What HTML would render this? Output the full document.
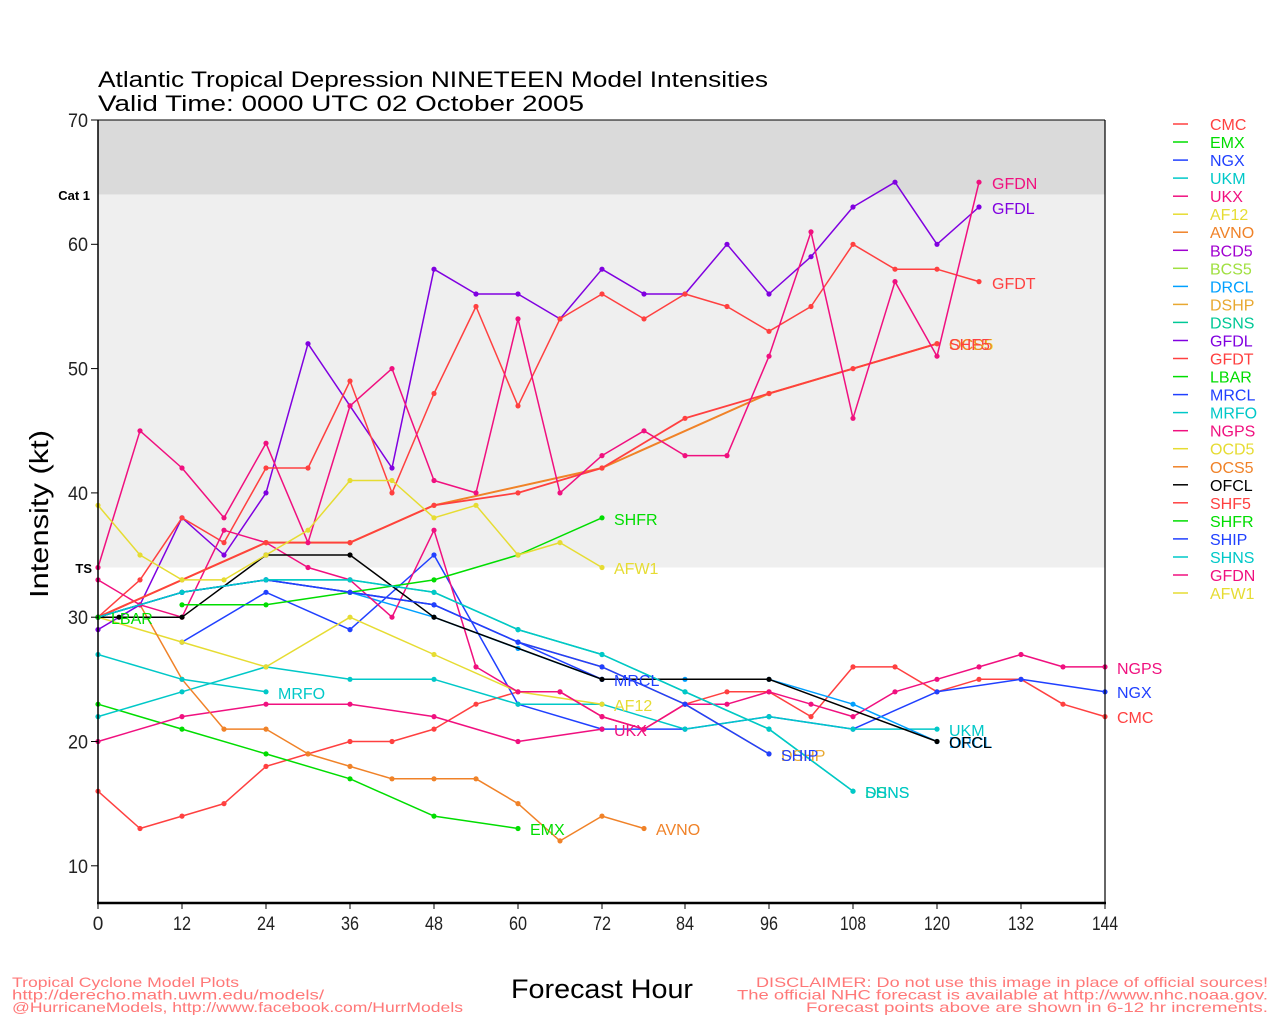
<!DOCTYPE html>
<html>
<head>
<meta charset="utf-8">
<style>
html,body{margin:0;padding:0;background:#fff;}
svg{display:block;}
text{font-family:"Liberation Sans","DejaVu Sans",sans-serif;}
</style>
</head>
<body>
<svg width="1280" height="1024" viewBox="0 0 1280 1024" xmlns="http://www.w3.org/2000/svg">
<defs>
<marker id="mRed" markerWidth="6" markerHeight="6" refX="3" refY="3" markerUnits="userSpaceOnUse"><circle cx="3" cy="3" r="2.6" fill="#ff4040"/></marker>
<marker id="mGrn" markerWidth="6" markerHeight="6" refX="3" refY="3" markerUnits="userSpaceOnUse"><circle cx="3" cy="3" r="2.6" fill="#00dd00"/></marker>
<marker id="mBlu" markerWidth="6" markerHeight="6" refX="3" refY="3" markerUnits="userSpaceOnUse"><circle cx="3" cy="3" r="2.6" fill="#2040ff"/></marker>
<marker id="mCyn" markerWidth="6" markerHeight="6" refX="3" refY="3" markerUnits="userSpaceOnUse"><circle cx="3" cy="3" r="2.6" fill="#00c8c8"/></marker>
<marker id="mPnk" markerWidth="6" markerHeight="6" refX="3" refY="3" markerUnits="userSpaceOnUse"><circle cx="3" cy="3" r="2.6" fill="#f0107f"/></marker>
<marker id="mYel" markerWidth="6" markerHeight="6" refX="3" refY="3" markerUnits="userSpaceOnUse"><circle cx="3" cy="3" r="2.6" fill="#e6dc32"/></marker>
<marker id="mOrg" markerWidth="6" markerHeight="6" refX="3" refY="3" markerUnits="userSpaceOnUse"><circle cx="3" cy="3" r="2.6" fill="#f08228"/></marker>
<marker id="mPur" markerWidth="6" markerHeight="6" refX="3" refY="3" markerUnits="userSpaceOnUse"><circle cx="3" cy="3" r="2.6" fill="#8000e0"/></marker>
<marker id="mSky" markerWidth="6" markerHeight="6" refX="3" refY="3" markerUnits="userSpaceOnUse"><circle cx="3" cy="3" r="2.6" fill="#00a0ff"/></marker>
<marker id="mGld" markerWidth="6" markerHeight="6" refX="3" refY="3" markerUnits="userSpaceOnUse"><circle cx="3" cy="3" r="2.6" fill="#e8a830"/></marker>
<marker id="mTea" markerWidth="6" markerHeight="6" refX="3" refY="3" markerUnits="userSpaceOnUse"><circle cx="3" cy="3" r="2.6" fill="#00c896"/></marker>
<marker id="mBlk" markerWidth="6" markerHeight="6" refX="3" refY="3" markerUnits="userSpaceOnUse"><circle cx="3" cy="3" r="2.6" fill="#000000"/></marker>
</defs>

<rect x="0" y="0" width="1280" height="1024" fill="#ffffff"/>

<!-- bands -->
<rect x="98" y="120" width="1007" height="74.6" fill="#dadada"/>
<rect x="98" y="194.6" width="1007" height="372.9" fill="#efefef"/>

<!-- title -->
<text x="98" y="87" font-size="22" textLength="670" lengthAdjust="spacingAndGlyphs" fill="#000">Atlantic Tropical Depression NINETEEN Model Intensities</text>
<text x="98" y="111" font-size="22" textLength="486" lengthAdjust="spacingAndGlyphs" fill="#000">Valid Time: 0000 UTC 02 October 2005</text>

<!-- series lines -->
<g fill="none" stroke-width="1.5" stroke-linejoin="round">
<!-- CMC -->
<polyline stroke="#ff4040" marker-start="url(#mRed)" marker-mid="url(#mRed)" marker-end="url(#mRed)" points="98,791.2 140,828.5 182,816.1 224,803.6 266,766.4 308,753.9 350,741.5 392,741.5 434,729.1 476,704.2 518,691.8 560,691.8 602,716.6 644,729.1 685,704.2 727,691.8 769,691.8 811,716.6 853,666.9 895,666.9 937,691.8 979,679.3 1021,679.3 1063,704.2 1105,716.6"/>
<!-- EMX -->
<polyline stroke="#00dd00" marker-start="url(#mGrn)" marker-mid="url(#mGrn)" marker-end="url(#mGrn)" points="98,704.2 182,729.1 266,753.9 350,778.8 434,816.1 518,828.5"/>
<!-- NGX -->
<polyline stroke="#2040ff" marker-start="url(#mBlu)" marker-mid="url(#mBlu)" marker-end="url(#mBlu)" points="182,642.1 266,592.3 350,629.6 434,555.0 518,704.2 602,729.1 685,729.1 769,716.6 853,729.1 937,691.8 1021,679.3 1105,691.8"/>
<!-- UKM -->
<polyline stroke="#00c8c8" marker-start="url(#mCyn)" marker-mid="url(#mCyn)" marker-end="url(#mCyn)" points="98,716.6 182,691.8 266,666.9 350,679.3 434,679.3 518,704.2 602,704.2 685,729.1 769,716.6 853,729.1 937,729.1"/>
<!-- UKX -->
<polyline stroke="#f0107f" marker-start="url(#mPnk)" marker-mid="url(#mPnk)" marker-end="url(#mPnk)" points="98,741.5 182,716.6 266,704.2 350,704.2 434,716.6 518,741.5 602,729.1"/>
<!-- AF12 -->
<polyline stroke="#e6dc32" marker-start="url(#mYel)" marker-mid="url(#mYel)" marker-end="url(#mYel)" points="98,617.2 182,642.1 266,666.9 350,617.2 434,654.5 518,691.8 602,704.2"/>
<!-- AVNO -->
<polyline stroke="#f08228" marker-start="url(#mOrg)" marker-mid="url(#mOrg)" marker-end="url(#mOrg)" points="98,617.2 140,604.8 182,679.3 224,729.1 266,729.1 308,753.9 350,766.4 392,778.8 434,778.8 476,778.8 518,803.6 560,840.9 602,816.1 644,828.5"/>
<!-- DRCL -->
<polyline stroke="#00a0ff" marker-start="url(#mSky)" marker-mid="url(#mSky)" marker-end="url(#mSky)" points="98,617.2 182,592.3 266,579.9 350,592.3 434,617.2 518,648.4 602,679.3 685,679.3 769,679.3 853,704.2 937,741.5"/>
<!-- DSHP -->
<polyline stroke="#e8a830" marker-start="url(#mGld)" marker-mid="url(#mGld)" marker-end="url(#mGld)" points="98,617.2 182,592.3 266,579.9 350,592.3 434,604.8 518,642.1 602,666.9 685,704.2 769,753.9"/>
<!-- DSNS -->
<polyline stroke="#00c896" marker-start="url(#mTea)" marker-mid="url(#mTea)" marker-end="url(#mTea)" points="98,617.2 182,592.3 266,579.9 350,579.9 434,592.3 518,629.6 602,654.5 685,691.8 769,729.1 853,791.2"/>
<!-- GFDL -->
<polyline stroke="#8000e0" marker-start="url(#mPur)" marker-mid="url(#mPur)" marker-end="url(#mPur)" points="98,629.6 140,604.8 182,517.8 224,555.0 266,492.9 308,343.7 350,405.9 392,468.0 434,269.2 476,294.0 518,294.0 560,318.9 602,269.2 644,294.0 685,294.0 727,244.3 769,294.0 811,256.7 853,207.0 895,182.2 937,244.3 979,207.0"/>
<!-- GFDT -->
<polyline stroke="#ff4040" marker-start="url(#mRed)" marker-mid="url(#mRed)" marker-end="url(#mRed)" points="98,617.2 140,579.9 182,517.8 224,542.6 266,468.0 308,468.0 350,381.0 392,492.9 434,393.5 476,306.5 518,405.9 560,318.9 602,294.0 644,318.9 685,294.0 727,306.5 769,331.3 811,306.5 853,244.3 895,269.2 937,269.2 979,281.6"/>
<!-- MRCL -->
<polyline stroke="#2040ff" marker-start="url(#mBlu)" marker-mid="url(#mBlu)" marker-end="url(#mBlu)" points="98,617.2 182,592.3 266,579.9 350,592.3 434,604.8 518,642.1 602,679.3"/>
<!-- MRFO -->
<polyline stroke="#00c8c8" marker-start="url(#mCyn)" marker-mid="url(#mCyn)" marker-end="url(#mCyn)" points="98,654.5 182,679.3 266,691.8"/>
<!-- NGPS -->
<polyline stroke="#f0107f" marker-start="url(#mPnk)" marker-mid="url(#mPnk)" marker-end="url(#mPnk)" points="98,579.9 140,604.8 182,617.2 224,530.2 266,542.6 308,567.5 350,579.9 392,617.2 434,530.2 476,666.9 518,691.8 560,691.8 602,716.6 644,729.1 685,704.2 727,704.2 769,691.8 811,704.2 853,716.6 895,691.8 937,679.3 979,666.9 1021,654.5 1063,666.9 1105,666.9"/>
<!-- OCD5 -->
<polyline stroke="#e6dc32" marker-start="url(#mYel)" marker-mid="url(#mYel)" marker-end="url(#mYel)" points="98,617.2 266,542.6 350,542.6 434,505.3 602,468.0 769,393.5 937,343.7"/>
<!-- OCS5 -->
<polyline stroke="#f08228" stroke-width="2" marker-start="url(#mOrg)" marker-mid="url(#mOrg)" marker-end="url(#mOrg)" points="98,617.2 266,542.6 350,542.6 434,505.3 602,468.0 769,393.5 937,343.7"/>
<!-- OFCL -->
<polyline stroke="#000000" marker-start="url(#mBlk)" marker-mid="url(#mBlk)" marker-end="url(#mBlk)" points="98,617.2 119,617.2 182,617.2 266,555.0 350,555.0 434,617.2 602,679.3 769,679.3 937,741.5"/>
<!-- SHF5 -->
<polyline stroke="#ff4040" stroke-width="1.8" marker-start="url(#mRed)" marker-mid="url(#mRed)" marker-end="url(#mRed)" points="98,617.2 182,579.9 266,542.6 350,542.6 434,505.3 518,492.9 602,468.0 685,418.3 769,393.5 853,368.6 937,343.7"/>
<!-- SHFR -->
<polyline stroke="#00dd00" marker-start="url(#mGrn)" marker-mid="url(#mGrn)" marker-end="url(#mGrn)" points="182,604.8 266,604.8 350,592.3 434,579.9 518,555.0 602,517.8"/>
<!-- SHIP -->
<polyline stroke="#2040ff" marker-start="url(#mBlu)" marker-mid="url(#mBlu)" marker-end="url(#mBlu)" points="98,617.2 182,592.3 266,579.9 350,592.3 434,604.8 518,642.1 602,666.9 685,704.2 769,753.9"/>
<!-- SHNS -->
<polyline stroke="#00c8c8" marker-start="url(#mCyn)" marker-mid="url(#mCyn)" marker-end="url(#mCyn)" points="98,617.2 182,592.3 266,579.9 350,579.9 434,592.3 518,629.6 602,654.5 685,691.8 769,729.1 853,791.2"/>
<!-- GFDN -->
<polyline stroke="#f0107f" marker-start="url(#mPnk)" marker-mid="url(#mPnk)" marker-end="url(#mPnk)" points="98,567.5 140,430.8 182,468.0 224,517.8 266,443.2 308,542.6 350,405.9 392,368.6 434,480.5 476,492.9 518,318.9 560,492.9 602,455.6 644,430.8 685,455.6 727,455.6 769,356.2 811,231.9 853,418.3 895,281.6 937,356.2 979,182.2"/>
<!-- AFW1 -->
<polyline stroke="#e6dc32" marker-start="url(#mYel)" marker-mid="url(#mYel)" marker-end="url(#mYel)" points="98,505.3 140,555.0 182,579.9 224,579.9 266,555.0 308,530.2 350,480.5 392,480.5 434,517.8 476,505.3 518,555.0 560,542.6 602,567.5"/>
</g>
<!-- LBAR single point -->
<circle cx="98" cy="617.2" r="2.6" fill="#00dd00"/>

<!-- series labels -->
<g font-size="16">
<text x="992" y="189" fill="#f0107f">GFDN</text>
<text x="992" y="214" fill="#8000e0">GFDL</text>
<text x="992" y="289" fill="#ff4040">GFDT</text>
<text x="949" y="350" fill="#e6dc32">OCD5</text>
<text x="949" y="350" fill="#f08228">OCS5</text>
<text x="949" y="350" fill="#ff4040">SHF5</text>
<text x="614" y="525" fill="#00dd00">SHFR</text>
<text x="614" y="574" fill="#e6dc32">AFW1</text>
<text x="111" y="624" fill="#00dd00">LBAR</text>
<text x="278" y="699" fill="#00c8c8">MRFO</text>
<text x="614" y="686" fill="#2040ff">MRCL</text>
<text x="614" y="711" fill="#e6dc32">AF12</text>
<text x="614" y="736" fill="#f0107f">UKX</text>
<text x="530" y="835" fill="#00dd00">EMX</text>
<text x="656" y="835" fill="#f08228">AVNO</text>
<text x="781" y="761" fill="#e8a830">DSHP</text>
<text x="781" y="761" fill="#2040ff">SHIP</text>
<text x="865" y="798" fill="#00c896">DSNS</text>
<text x="865" y="798" fill="#00c8c8">SHNS</text>
<text x="949" y="736" fill="#00c8c8">UKM</text>
<text x="949" y="748" fill="#00a0ff">DRCL</text>
<text x="949" y="748" fill="#000000">OFCL</text>
<text x="1117" y="674" fill="#f0107f">NGPS</text>
<text x="1117" y="698" fill="#2040ff">NGX</text>
<text x="1117" y="723" fill="#ff4040">CMC</text>
</g>

<!-- axes frame -->
<line x1="98" y1="120" x2="1105" y2="120" stroke="#000" stroke-width="1"/>
<line x1="1105" y1="120" x2="1105" y2="903" stroke="#000" stroke-width="1.2"/>
<line x1="98" y1="120" x2="98" y2="903" stroke="#000" stroke-width="1.5"/>
<line x1="97" y1="903" x2="1106" y2="903" stroke="#000" stroke-width="2.5"/>

<!-- y ticks -->
<g stroke="#000" stroke-width="1">
<line x1="91" y1="120" x2="98" y2="120"/>
<line x1="91" y1="244.3" x2="98" y2="244.3"/>
<line x1="91" y1="368.6" x2="98" y2="368.6"/>
<line x1="91" y1="492.9" x2="98" y2="492.9"/>
<line x1="91" y1="617.2" x2="98" y2="617.2"/>
<line x1="91" y1="741.5" x2="98" y2="741.5"/>
<line x1="91" y1="865.8" x2="98" y2="865.8"/>
</g>
<g font-size="19" fill="#222" text-anchor="end">
<text x="88" y="127" textLength="20" lengthAdjust="spacingAndGlyphs">70</text>
<text x="88" y="251" textLength="20" lengthAdjust="spacingAndGlyphs">60</text>
<text x="88" y="375.5" textLength="20" lengthAdjust="spacingAndGlyphs">50</text>
<text x="88" y="500" textLength="20" lengthAdjust="spacingAndGlyphs">40</text>
<text x="88" y="624" textLength="20" lengthAdjust="spacingAndGlyphs">30</text>
<text x="88" y="748.5" textLength="20" lengthAdjust="spacingAndGlyphs">20</text>
<text x="88" y="873" textLength="20" lengthAdjust="spacingAndGlyphs">10</text>
</g>
<text x="90" y="200" font-size="13" font-weight="bold" text-anchor="end" fill="#000">Cat 1</text>
<text x="92" y="573" font-size="13" font-weight="bold" text-anchor="end" fill="#000">TS</text>

<!-- x ticks -->
<g stroke="#000" stroke-width="1">
<line x1="98" y1="903" x2="98" y2="909"/>
<line x1="182" y1="903" x2="182" y2="909"/>
<line x1="266" y1="903" x2="266" y2="909"/>
<line x1="350" y1="903" x2="350" y2="909"/>
<line x1="434" y1="903" x2="434" y2="909"/>
<line x1="518" y1="903" x2="518" y2="909"/>
<line x1="602" y1="903" x2="602" y2="909"/>
<line x1="685" y1="903" x2="685" y2="909"/>
<line x1="769" y1="903" x2="769" y2="909"/>
<line x1="853" y1="903" x2="853" y2="909"/>
<line x1="937" y1="903" x2="937" y2="909"/>
<line x1="1021" y1="903" x2="1021" y2="909"/>
<line x1="1105" y1="903" x2="1105" y2="909"/>
</g>
<g font-size="19" fill="#222" text-anchor="middle">
<text x="98" y="930">0</text>
<text x="182" y="930" textLength="18" lengthAdjust="spacingAndGlyphs">12</text>
<text x="266" y="930" textLength="18" lengthAdjust="spacingAndGlyphs">24</text>
<text x="350" y="930" textLength="18" lengthAdjust="spacingAndGlyphs">36</text>
<text x="434" y="930" textLength="18" lengthAdjust="spacingAndGlyphs">48</text>
<text x="518" y="930" textLength="18" lengthAdjust="spacingAndGlyphs">60</text>
<text x="602" y="930" textLength="18" lengthAdjust="spacingAndGlyphs">72</text>
<text x="685" y="930" textLength="18" lengthAdjust="spacingAndGlyphs">84</text>
<text x="769" y="930" textLength="18" lengthAdjust="spacingAndGlyphs">96</text>
<text x="853" y="930" textLength="26" lengthAdjust="spacingAndGlyphs">108</text>
<text x="937" y="930" textLength="26" lengthAdjust="spacingAndGlyphs">120</text>
<text x="1021" y="930" textLength="26" lengthAdjust="spacingAndGlyphs">132</text>
<text x="1105" y="930" textLength="26" lengthAdjust="spacingAndGlyphs">144</text>
</g>

<!-- axis titles -->
<text x="511" y="998" font-size="27" textLength="182" lengthAdjust="spacingAndGlyphs" fill="#000">Forecast Hour</text>
<text transform="translate(48,598) rotate(-90)" font-size="26" textLength="168" lengthAdjust="spacingAndGlyphs" fill="#000">Intensity (kt)</text>

<!-- legend -->
<g stroke-width="1.5">
<line x1="1173" y1="124" x2="1188" y2="124" stroke="#ff4040"/>
<line x1="1173" y1="142" x2="1188" y2="142" stroke="#00dd00"/>
<line x1="1173" y1="160.1" x2="1188" y2="160.1" stroke="#2040ff"/>
<line x1="1173" y1="178.1" x2="1188" y2="178.1" stroke="#00c8c8"/>
<line x1="1173" y1="196.2" x2="1188" y2="196.2" stroke="#f0107f"/>
<line x1="1173" y1="214.2" x2="1188" y2="214.2" stroke="#e6dc32"/>
<line x1="1173" y1="232.2" x2="1188" y2="232.2" stroke="#f08228"/>
<line x1="1173" y1="250.3" x2="1188" y2="250.3" stroke="#a000d0"/>
<line x1="1173" y1="268.3" x2="1188" y2="268.3" stroke="#a0e040"/>
<line x1="1173" y1="286.4" x2="1188" y2="286.4" stroke="#00a0ff"/>
<line x1="1173" y1="304.4" x2="1188" y2="304.4" stroke="#e8a830"/>
<line x1="1173" y1="322.4" x2="1188" y2="322.4" stroke="#00c896"/>
<line x1="1173" y1="340.5" x2="1188" y2="340.5" stroke="#8000e0"/>
<line x1="1173" y1="358.5" x2="1188" y2="358.5" stroke="#ff4040"/>
<line x1="1173" y1="376.6" x2="1188" y2="376.6" stroke="#00dd00"/>
<line x1="1173" y1="394.6" x2="1188" y2="394.6" stroke="#2040ff"/>
<line x1="1173" y1="412.6" x2="1188" y2="412.6" stroke="#00c8c8"/>
<line x1="1173" y1="430.7" x2="1188" y2="430.7" stroke="#f0107f"/>
<line x1="1173" y1="448.7" x2="1188" y2="448.7" stroke="#e6dc32"/>
<line x1="1173" y1="466.8" x2="1188" y2="466.8" stroke="#f08228"/>
<line x1="1173" y1="484.8" x2="1188" y2="484.8" stroke="#000000"/>
<line x1="1173" y1="502.8" x2="1188" y2="502.8" stroke="#ff4040"/>
<line x1="1173" y1="520.9" x2="1188" y2="520.9" stroke="#00dd00"/>
<line x1="1173" y1="538.9" x2="1188" y2="538.9" stroke="#2040ff"/>
<line x1="1173" y1="557" x2="1188" y2="557" stroke="#00c8c8"/>
<line x1="1173" y1="575" x2="1188" y2="575" stroke="#f0107f"/>
<line x1="1173" y1="593" x2="1188" y2="593" stroke="#e6dc32"/>
</g>
<g font-size="16">
<text x="1210" y="130" fill="#ff4040">CMC</text>
<text x="1210" y="148" fill="#00dd00">EMX</text>
<text x="1210" y="166.1" fill="#2040ff">NGX</text>
<text x="1210" y="184.1" fill="#00c8c8">UKM</text>
<text x="1210" y="202.2" fill="#f0107f">UKX</text>
<text x="1210" y="220.2" fill="#e6dc32">AF12</text>
<text x="1210" y="238.2" fill="#f08228">AVNO</text>
<text x="1210" y="256.3" fill="#a000d0">BCD5</text>
<text x="1210" y="274.3" fill="#a0e040">BCS5</text>
<text x="1210" y="292.4" fill="#00a0ff">DRCL</text>
<text x="1210" y="310.4" fill="#e8a830">DSHP</text>
<text x="1210" y="328.4" fill="#00c896">DSNS</text>
<text x="1210" y="346.5" fill="#8000e0">GFDL</text>
<text x="1210" y="364.5" fill="#ff4040">GFDT</text>
<text x="1210" y="382.6" fill="#00dd00">LBAR</text>
<text x="1210" y="400.6" fill="#2040ff">MRCL</text>
<text x="1210" y="418.6" fill="#00c8c8">MRFO</text>
<text x="1210" y="436.7" fill="#f0107f">NGPS</text>
<text x="1210" y="454.7" fill="#e6dc32">OCD5</text>
<text x="1210" y="472.8" fill="#f08228">OCS5</text>
<text x="1210" y="490.8" fill="#000000">OFCL</text>
<text x="1210" y="508.8" fill="#ff4040">SHF5</text>
<text x="1210" y="526.9" fill="#00dd00">SHFR</text>
<text x="1210" y="544.9" fill="#2040ff">SHIP</text>
<text x="1210" y="563" fill="#00c8c8">SHNS</text>
<text x="1210" y="581" fill="#f0107f">GFDN</text>
<text x="1210" y="599" fill="#e6dc32">AFW1</text>
</g>

<!-- footer -->
<g font-size="14" fill="#ff7878">
<text x="12" y="987" textLength="227" lengthAdjust="spacingAndGlyphs">Tropical Cyclone Model Plots</text>
<text x="12" y="999.5" textLength="312" lengthAdjust="spacingAndGlyphs">http://derecho.math.uwm.edu/models/</text>
<text x="12" y="1012" textLength="451" lengthAdjust="spacingAndGlyphs">@HurricaneModels, http://www.facebook.com/HurrModels</text>
</g>
<g font-size="14" fill="#ff7878" text-anchor="end">
<text x="1268" y="987" textLength="512" lengthAdjust="spacingAndGlyphs">DISCLAIMER: Do not use this image in place of official sources!</text>
<text x="1268" y="999.5" textLength="531" lengthAdjust="spacingAndGlyphs">The official NHC forecast is available at http://www.nhc.noaa.gov.</text>
<text x="1268" y="1012" textLength="462" lengthAdjust="spacingAndGlyphs">Forecast points above are shown in 6-12 hr increments.</text>
</g>
</svg>
</body>
</html>
